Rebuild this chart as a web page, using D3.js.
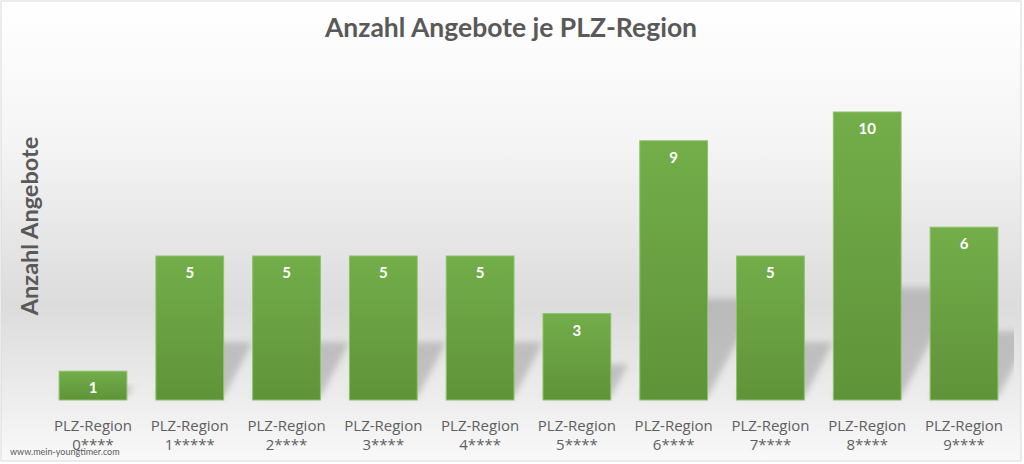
<!DOCTYPE html>
<html>
<head>
<meta charset="utf-8">
<script src="https://cdn.jsdelivr.net/npm/d3@7"></script>
<style>
  html, body { margin: 0; padding: 0; background: #ffffff; }
  svg { display: block; }
</style>
</head>
<body>
<svg id="chart" width="1024" height="464"></svg>
<script>
// ---- data ----
const categories = ["PLZ-Region 0****", "PLZ-Region 1*****", "PLZ-Region 2****", "PLZ-Region 3****", "PLZ-Region 4****",
                    "PLZ-Region 5****", "PLZ-Region 6****", "PLZ-Region 7****", "PLZ-Region 8****", "PLZ-Region 9****"];
const values = [1, 5, 5, 5, 5, 3, 9, 5, 10, 6];
const chartTitle = "Anzahl Angebote je PLZ-Region";
const yAxisTitle = "Anzahl Angebote";
const watermark = "www.mein-youngtimer.com";

// ---- layout ----
const W = 1024, H = 464;
const svg = d3.select("#chart");
const defs = svg.append("defs");

const bg = defs.append("linearGradient").attr("id", "bg").attr("x1", 0).attr("y1", 0).attr("x2", 0).attr("y2", 1);
[[0, "#ffffff"], [0.3, "#f5f5f5"], [0.66, "#dcdcdc"], [0.83, "#eaeaea"], [1, "#f9f9f9"]]
  .forEach(([o, c]) => bg.append("stop").attr("offset", o).attr("stop-color", c));

const barGrad = defs.append("linearGradient").attr("id", "barGrad").attr("x1", 0).attr("y1", 0).attr("x2", 0).attr("y2", 1);
[[0, "#73ae4a"], [1, "#5f9339"]].forEach(([o, c]) => barGrad.append("stop").attr("offset", o).attr("stop-color", c));

const blur = defs.append("filter").attr("id", "blur").attr("x", "-20%").attr("y", "-20%").attr("width", "140%").attr("height", "140%");
blur.append("feGaussianBlur").attr("stdDeviation", 3);

const clip = defs.append("clipPath").attr("id", "plotClip");
clip.append("rect").attr("x", 2).attr("y", 2).attr("width", 1012).attr("height", 456);

svg.append("rect").attr("x", 1).attr("y", 1).attr("width", W - 4).attr("height", H - 4)
  .attr("fill", "url(#bg)").attr("stroke", "#d9d9d9").attr("stroke-width", 1);

const x = d3.scaleBand().domain(categories).range([44.6, 1012.4]).paddingInner(0.3).paddingOuter(0.15);
const y = d3.scaleLinear().domain([0, 10]).range([400, 112]);

// shadows (perspective, upper right)
const k = 0.2, s = 0.38;
svg.append("g").attr("clip-path", "url(#plotClip)")
  .selectAll("path").data(values).join("path")
  .attr("d", (d, i) => {
    const x0 = x(categories[i]), x1 = x0 + x.bandwidth();
    const base = y(0), h = y(0) - y(d);
    return `M${x0},${base - 3}L${x1},${base - 3}L${x1 + k * h},${base - 3 - s * h}L${x0 + k * h},${base - 3 - s * h}Z`;
  })
  .attr("fill", "#999999").attr("opacity", 0.5).attr("filter", "url(#blur)");

// bars
svg.append("g").selectAll("rect").data(values).join("rect")
  .attr("x", (d, i) => x(categories[i]))
  .attr("y", d => y(d))
  .attr("width", x.bandwidth())
  .attr("height", d => y(0) - y(d))
  .attr("fill", "url(#barGrad)")
  .attr("stroke", "#8cc267").attr("stroke-width", 1);

// value labels
svg.append("g").selectAll("text").data(values).join("text")
  .attr("x", (d, i) => x(categories[i]) + x.bandwidth() / 2)
  .attr("y", d => y(d) + 22)
  .attr("text-anchor", "middle")
  .attr("font-family", "Lato, 'Open Sans', sans-serif")
  .attr("font-weight", "bold")
  .attr("font-size", 15)
  .attr("fill", "#ffffff")
  .text(d => d);

// category axis labels (two lines)
const xAxis = d3.axisBottom(x).tickSize(0).tickPadding(0).tickFormat(() => "");
const gx = svg.append("g").attr("transform", `translate(0,${y(0)})`).call(xAxis);
gx.select(".domain").remove();
gx.selectAll(".tick text").remove();
gx.selectAll(".tick").each(function(c) {
  const parts = [c.slice(0, c.indexOf(" ")), c.slice(c.indexOf(" ") + 1)];
  const t = d3.select(this).append("text")
    .attr("text-anchor", "middle")
    .attr("font-family", "'Open Sans', Lato, sans-serif")
    .attr("font-size", 15)
    .attr("fill", "#5f5f5f");
  t.append("tspan").attr("x", 0).attr("y", 30.5).text(parts[0]);
  t.append("tspan").attr("x", 0).attr("y", 49.5).text(parts[1]);
});

// title
svg.append("text").attr("x", 511).attr("y", 37).attr("text-anchor", "middle")
  .attr("font-family", "Lato, 'Open Sans', sans-serif").attr("font-weight", "bold")
  .attr("font-size", 26.5).attr("fill", "#595959").text(chartTitle);

// y axis title
svg.append("text").attr("transform", "translate(38,226) rotate(-90)").attr("text-anchor", "middle")
  .attr("font-family", "Lato, 'Open Sans', sans-serif").attr("font-weight", "bold")
  .attr("font-size", 23.5).attr("fill", "#595959").text(yAxisTitle);

// watermark
svg.append("text").attr("x", 10).attr("y", 455)
  .attr("font-family", "Lato, 'Open Sans', sans-serif")
  .attr("font-size", 9).attr("fill", "#595959").text(watermark);
</script>
</body>
</html>
